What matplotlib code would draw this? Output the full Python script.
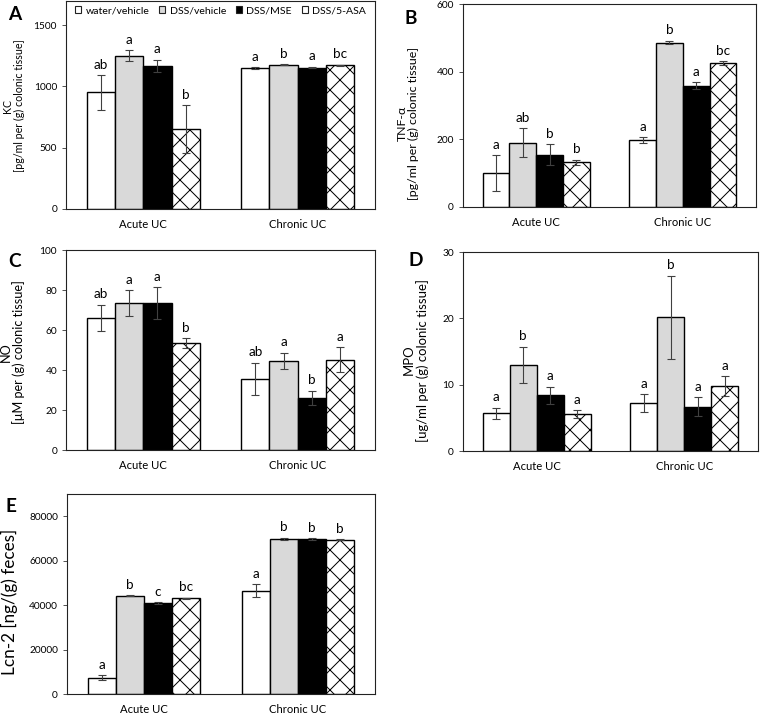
import matplotlib
matplotlib.use("Agg")
import matplotlib.pyplot as plt
from matplotlib.patches import Patch
import numpy as np

DPI = 120
P = 72.0 / DPI  # points per pixel

plt.rcParams['font.family'] = ['Lato', 'DejaVu Sans']
plt.rcParams['hatch.linewidth'] = 1.0 * P

categories = ['Acute UC', 'Chronic UC']
groups = ['water/vehicle', 'DSS/vehicle', 'DSS/MSE', 'DSS/5-ASA']

# Panel A: KC
kc_mean = [[951, 1249, 1166, 652], [1146, 1177, 1152, 1171]]
kc_err = [[140, 45, 50, 195], [8, 5, 6, 5]]
kc_letters = [['ab', 'a', 'a', 'b'], ['a', 'b', 'a', 'bc']]

# Panel B: TNF-alpha
tnf_mean = [[100, 190, 155, 132], [197, 486, 358, 425]]
tnf_err = [[53, 43, 30, 8], [9, 5, 10, 6]]
tnf_letters = [['a', 'ab', 'b', 'b'], ['a', 'b', 'a', 'bc']]

# Panel C: NO
no_mean = [[66.0, 73.5, 73.3, 53.3], [35.5, 44.5, 26.2, 45.2]]
no_err = [[6.6, 6.4, 8.0, 2.5], [8.2, 4.0, 3.5, 6.2]]
no_letters = [['ab', 'a', 'a', 'b'], ['ab', 'a', 'b', 'a']]

# Panel D: MPO
mpo_mean = [[5.7, 13.0, 8.4, 5.6], [7.2, 20.15, 6.7, 9.75]]
mpo_err = [[0.85, 2.7, 1.25, 0.55], [1.35, 6.3, 1.4, 1.5]]
mpo_letters = [['a', 'b', 'a', 'a'], ['a', 'b', 'a', 'a']]

# Panel E: Lcn-2
lcn_mean = [[7350, 44300, 41000, 43100], [46500, 69800, 69700, 69400]]
lcn_err = [[1000, 200, 350, 300], [3000, 500, 400, 200]]
lcn_letters = [['a', 'b', 'c', 'bc'], ['a', 'b', 'b', 'b']]

W, H = 760, 716
fig = plt.figure(figsize=(W / DPI, H / DPI), dpi=DPI)
renderer = fig.canvas.get_renderer()


def text_len(t, vertical=False):
    bb = t.get_window_extent(renderer)
    return bb.height if vertical else bb.width


def fit(t, target, vertical=False):
    for _ in range(4):
        L = text_len(t, vertical)
        if L > 0:
            t.set_fontsize(t.get_fontsize() * target / L)


def size_for(s, target_px):
    t = fig.text(0, 0, s, fontsize=10)
    fit(t, target_px)
    fs = t.get_fontsize()
    t.remove()
    return fs


tick_fs = size_for('1500', 23.5)
cat_fs = size_for('Acute UC', 48)
letter_fs = 13.5 * P


def make_ax(l, r, t, b):
    return fig.add_axes([l / W, 1 - b / H, (r - l) / W, (b - t) / H])


fills = ['white', '#d9d9d9', 'black', 'white']
hatches = [None, None, None, 'xx']
bw = 0.183


def panel(ax, mean, err, letters, ymax, yticks, ylabel, label_xy, label_len,
          letter, letter_xy, linesp=1.02):
    mean = np.array(mean)
    err = np.array(err)
    x = np.arange(len(categories))
    for gi in range(len(groups)):
        xs = x + (gi - 1.5) * bw
        ax.bar(xs, mean[:, gi], bw, color=fills[gi], edgecolor='black',
               linewidth=1.4 * P, hatch=hatches[gi], zorder=2)
        ax.errorbar(xs, mean[:, gi], yerr=err[:, gi], fmt='none', ecolor='#404040',
                    elinewidth=1.1 * P, capsize=4.2 * P, capthick=1.1 * P, zorder=3)
        for ci in range(len(categories)):
            ax.annotate(letters[ci][gi], (xs[ci], mean[ci, gi] + err[ci, gi]),
                        xytext=(0, 4.5 * P), textcoords='offset points',
                        ha='center', va='bottom', fontsize=letter_fs)
    ax.set_xlim(-0.5, 1.5)
    ax.set_ylim(0, ymax)
    ax.set_yticks(yticks)
    ax.set_xticks(x)
    ax.set_xticklabels(categories, fontsize=cat_fs)
    ax.tick_params(axis='x', length=0, pad=10 * P)
    ax.tick_params(axis='y', length=4.5 * P, width=1.0 * P, labelsize=tick_fs,
                   pad=4.5 * P, color='#555555')
    for s in ax.spines.values():
        s.set_linewidth(1.1 * P)
        s.set_color('#222222')
    lab = ax.set_ylabel(ylabel, fontsize=10, linespacing=linesp,
                        multialignment='center')
    fit(lab, label_len, vertical=True)
    ax.yaxis.set_label_coords(*label_xy)
    fig.text(letter_xy[0] / W, 1 - letter_xy[1] / H, letter, fontsize=19 * P,
             fontweight='bold', ha='center', va='center')


def lab_xy(right_px, center_px, l, t, r, b):
    return ((right_px - l) / (r - l), 1 - (center_px - t) / (b - t))


boxA = (66, 0.5, 375, 209)
axA = make_ax(66, 375, 0.5, 209)
panel(axA, kc_mean, kc_err, kc_letters, 1700, [0, 500, 1000, 1500],
      'KC\n[pg/ml per (g) colonic tissue]', lab_xy(24.5, 106, *boxA), 133,
      'A', (15, 14))

handles = [Patch(facecolor=f, edgecolor='#222222', linewidth=1.1 * P) for f in fills]
leg_fs = size_for('water/vehicle', 63)
colsp = 1.2
for _ in range(3):
    leg = axA.legend(handles, groups, loc='upper center', bbox_to_anchor=(0.5, 1.0),
                     ncol=4, frameon=False, fontsize=leg_fs, handlelength=0.6,
                     handleheight=0.6, handletextpad=0.4, columnspacing=colsp,
                     borderaxespad=0.35, borderpad=0.2)
    fig.canvas.draw()
    wpx = leg.get_window_extent(renderer).width
    inner = wpx - 2 * 0.2 * leg_fs / P
    colsp += (291 - inner) / 3 / (leg_fs / P)

boxB = (463, 4, 756, 207)
axB = make_ax(463, 756, 4, 207)
panel(axB, tnf_mean, tnf_err, tnf_letters, 600, [0, 200, 400, 600],
      'TNF-α\n[pg/ml per (g) colonic tissue]', lab_xy(419.5, 123, *boxB), 153,
      'B', (411, 19))

boxC = (66, 250, 375, 450)
axC = make_ax(66, 375, 250, 450)
panel(axC, no_mean, no_err, no_letters, 100, [0, 20, 40, 60, 80, 100],
      'NO\n[μM per (g) colonic tissue]', lab_xy(25, 352, *boxC), 144,
      'C', (15, 262))

boxD = (463, 252, 758, 451)
axD = make_ax(463, 758, 252, 451)
panel(axD, mpo_mean, mpo_err, mpo_letters, 30, [0, 10, 20, 30],
      'MPO\n[ug/ml per (g) colonic tissue]', lab_xy(429, 360, *boxD), 162,
      'D', (416, 261), linesp=1.15)

boxE = (67, 494, 375, 694)
axE = make_ax(67, 375, 494, 694)
panel(axE, lcn_mean, lcn_err, lcn_letters, 90000, [0, 20000, 40000, 60000, 80000],
      'Lcn-2 [ng/(g) feces]', lab_xy(18, 602, *boxE), 146,
      'E', (11, 507))

fig.savefig('out.png', dpi=DPI)
